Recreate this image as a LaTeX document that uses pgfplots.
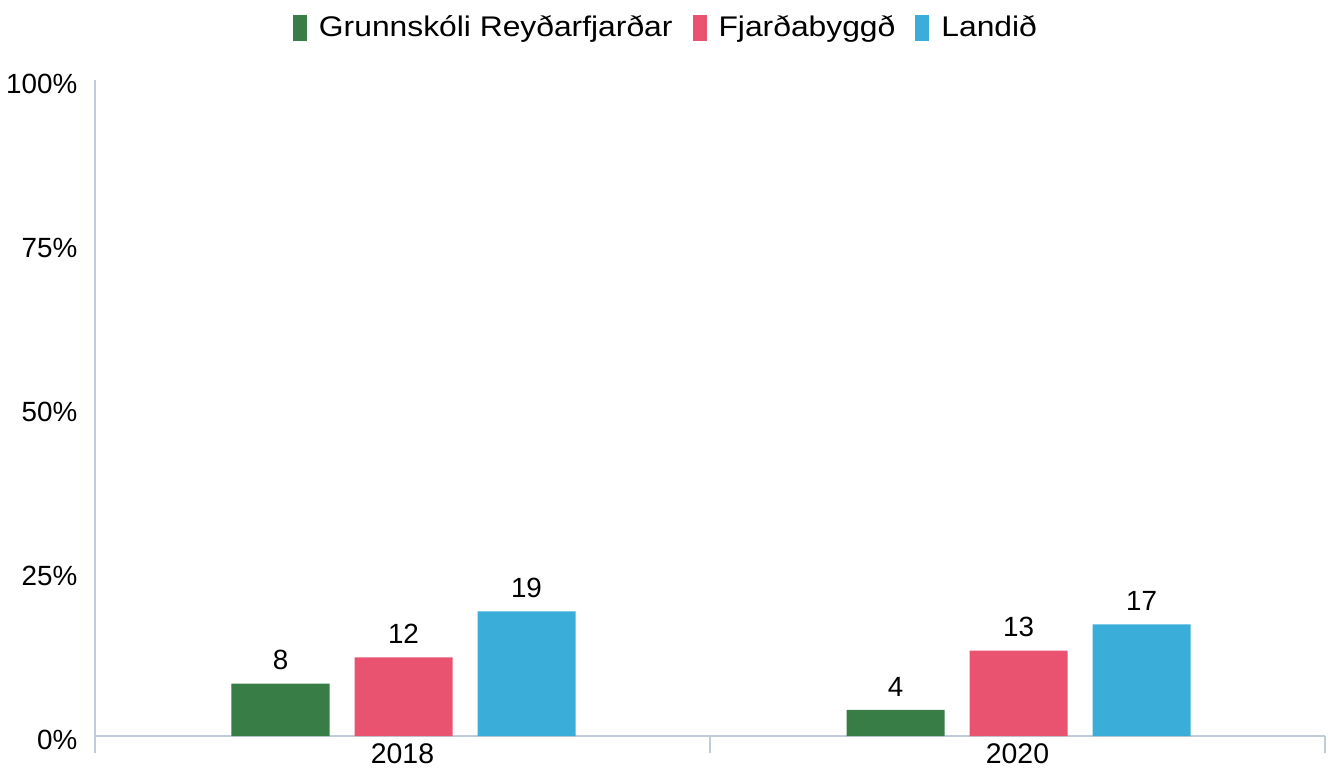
\documentclass[border=0pt]{standalone}
\usepackage{pgfplots}
\pgfplotsset{compat=1.18}
\usepackage{fontspec}
\setmainfont{Liberation Sans}
\newfontfamily\legfont[FakeStretch=1.12]{Liberation Sans}
\definecolor{cgreen}{RGB}{56,125,69}
\definecolor{cpink}{RGB}{234,83,112}
\definecolor{cblue}{RGB}{58,173,217}
\definecolor{caxis}{RGB}{192,204,218}
\begin{document}
\fontsize{13.9}{16}\selectfont
\begin{tikzpicture}
\begin{axis}[
  at={(0,0)}, anchor=south west,
  scale only axis,
  width=615pt, height=328pt,
  xmin=-0.5, xmax=1.5,
  ymin=0, ymax=100,
  axis x line*=bottom,
  axis y line*=left,
  axis line style={caxis, line width=0.9pt},
  xtick={0,1},
  xticklabels={2018,2020},
  x tick label style={yshift=1pt, font=\fontsize{14.2}{16}\selectfont},
  major tick length=0pt,
  extra x ticks={-0.5,0.5,1.5},
  extra x tick labels={},
  extra x tick style={major tick length=8.5pt, tick align=outside, tick style={caxis, line width=0.9pt}},
  ytick={0,25,50,75,100},
  yticklabel={\pgfmathprintnumber{\tick}\%},
  y tick label style={xshift=-4pt, yshift=-2pt, font=\fontsize{13.9}{16}\selectfont},
  /pgf/number format/assume math mode=true,
  ybar, bar width=49pt,
  nodes near coords,
  nodes near coords style={font=\fontsize{13.9}{16}\selectfont, yshift=2pt},
  legend style={at={(rel axis cs:0.465,1.079)}, anchor=center, draw=none, legend columns=3,
    font=\fontsize{14.2}{16}\legfont,
    /tikz/every odd column/.append style={column sep=4pt},
    /tikz/every even column/.append style={column sep=8pt}},
  legend image code/.code={\fill[#1] (0pt,-6.5pt) rectangle (7pt,6.5pt);},
  clip=false,
]
\addplot[fill=cgreen, draw=none, bar shift=-61pt] coordinates {(0,8) (1,4)};
\addplot[fill=cpink, draw=none, bar shift=0.5pt] coordinates {(0,12) (1,13)};
\addplot[fill=cblue, draw=none, bar shift=62pt] coordinates {(0,19) (1,17)};
\legend{Grunnskóli Reyðarfjarðar, Fjarðabyggð, Landið}
\end{axis}
\pgfresetboundingbox
\useasboundingbox (-47.5pt,-15.5pt) rectangle (619.5pt,368pt);
\end{tikzpicture}
\end{document}
